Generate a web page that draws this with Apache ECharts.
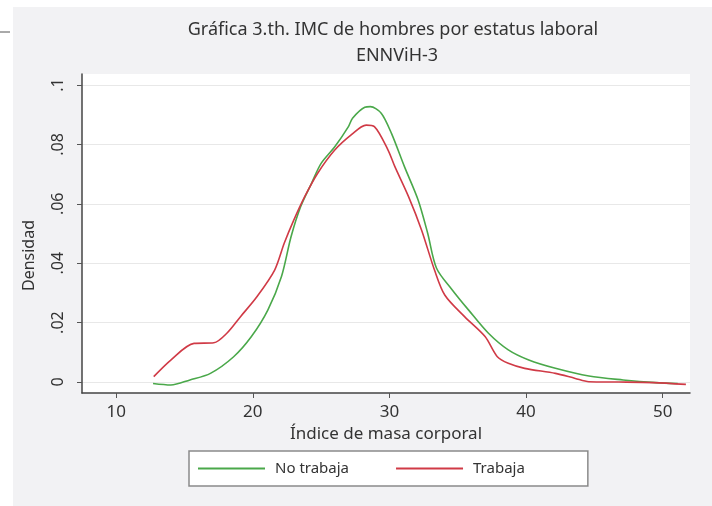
<!DOCTYPE html>
<html>
<head>
<meta charset="utf-8">
<script src="https://cdn.jsdelivr.net/npm/echarts@6/dist/echarts.min.js"></script>
<style>
  html, body { margin: 0; padding: 0; background: #fff; }
  #chart { width: 712px; height: 506px; }
</style>
</head>
<body>
<div id="chart"></div>
<script>
// densidad kernel del IMC
var noTrabaja = [
  [12.7, -0.0005], [14.0, -0.001], [15.4, 0.0007], [16.9, 0.0029], [18.6, 0.0085],
  [19.9, 0.0153], [21.1, 0.0242], [22.1, 0.0355], [22.8, 0.0489], [23.5, 0.059],
  [24.3, 0.0669], [25.0, 0.0736], [26.0, 0.0792], [27.0, 0.086], [27.3, 0.0888],
  [28.2, 0.0925], [28.6, 0.0927], [29.4, 0.0905], [30.15, 0.0837], [31.1, 0.0725],
  [32.1, 0.0613], [32.8, 0.0501], [33.45, 0.0383], [34.6, 0.031], [35.8, 0.0242],
  [37.25, 0.0164], [38.7, 0.0108], [40.2, 0.0074], [42.15, 0.0046], [44.6, 0.002],
  [47.1, 0.0007], [49.5, -0.0002], [51.1, -0.0005]
];
var trabaja = [
  [12.75, 0.0018], [14.0, 0.0074], [15.7, 0.013], [17.15, 0.0132], [18.1, 0.0164],
  [19.1, 0.022], [20.3, 0.0287], [21.6, 0.0377], [22.3, 0.0467], [23.0, 0.0545],
  [23.8, 0.0624], [24.75, 0.0703], [26.0, 0.0781], [27.2, 0.0832], [28.3, 0.0865],
  [28.9, 0.086], [29.9, 0.0781], [30.4, 0.0725], [31.4, 0.0624], [32.35, 0.0512],
  [33.3, 0.0377], [34.05, 0.0293], [35.5, 0.022], [37.0, 0.0153], [37.9, 0.0085],
  [38.7, 0.0063], [39.9, 0.0046], [42.15, 0.0029], [43.6, 0.0012], [44.6, 0.0001],
  [46.8, 0.0], [49.3, -0.0002], [51.7, -0.0008]
];
var xTicks = [10, 20, 30, 40, 50];
var yTicks = [0, 0.02, 0.04, 0.06, 0.08, 0.1];
var serieNames = ['No trabaja', 'Trabaja'];

var FONT = '"Noto Sans", sans-serif';

var chart = echarts.init(document.getElementById('chart'));
chart.setOption({
  backgroundColor: '#fff',
  animation: false,
  graphic: [
    { type: 'rect', z: -10, shape: { x: 13, y: 7, width: 699, height: 499 }, style: { fill: '#f2f2f4' } },
    { type: 'line', shape: { x1: 0, y1: 32, x2: 10, y2: 32 }, style: { stroke: '#555', lineWidth: 1 } },
    { type: 'text', x: 393, y: 30, style: { text: 'Gráfica 3.th. IMC de hombres por estatus laboral',
        font: '18px ' + FONT, fill: '#333', align: 'center', verticalAlign: 'middle',
        textAlign: 'center', textVerticalAlign: 'middle' } },
    { type: 'text', x: 397, y: 56, style: { text: 'ENNViH-3',
        font: '18px ' + FONT, fill: '#333', align: 'center', verticalAlign: 'middle',
        textAlign: 'center', textVerticalAlign: 'middle' } }
  ],
  grid: {
    left: 82, right: 22, top: 74, bottom: 113,
    show: true, backgroundColor: '#fff', borderWidth: 0
  },
  legend: {
    data: serieNames,
    left: 189, top: 451,
    padding: [10, 63, 10, 9],
    itemGap: 47,
    itemWidth: 67,
    itemHeight: 2,
    icon: 'rect',
    backgroundColor: '#fff',
    borderColor: '#8a8a8a',
    borderWidth: 1.5,
    borderRadius: 0,
    textStyle: { fontFamily: FONT, fontSize: 15, color: '#333', padding: [0, 0, 0, 5] }
  },
  xAxis: {
    type: 'value',
    min: 7.5, max: 52,
    name: 'Índice de masa corporal',
    nameLocation: 'middle',
    nameGap: 33,
    nameTextStyle: { fontFamily: FONT, fontSize: 17, color: '#333' },
    axisLine: { show: true, onZero: false, lineStyle: { color: '#444', width: 1.5 } },
    axisTick: { show: true, length: 5, customValues: xTicks, lineStyle: { color: '#555' } },
    axisLabel: { customValues: xTicks, margin: 11, fontFamily: FONT, fontSize: 17, color: '#333' },
    splitLine: { show: false }
  },
  yAxis: {
    type: 'value',
    min: -0.0037, max: 0.1037,
    name: 'Densidad',
    nameLocation: 'middle',
    nameGap: 45,
    nameTextStyle: { fontFamily: FONT, fontSize: 16, color: '#333', padding: [0, 44, 0, 0] },
    axisLine: { show: true, onZero: false, lineStyle: { color: '#444', width: 1.5 } },
    axisTick: { show: true, length: 5, customValues: yTicks, lineStyle: { color: '#555' } },
    axisLabel: {
      customValues: yTicks, rotate: 90, margin: 16,
      fontFamily: FONT, fontSize: 16, color: '#333',
      formatter: function (v) {
        if (Math.abs(v) < 1e-9) return '0';
        return String(+v.toFixed(2)).replace(/^0/, '');
      }
    },
    splitLine: { show: true, lineStyle: { color: '#e8e8e8', width: 1 } }
  },
  series: [{
    name: serieNames[0],
    type: 'line',
    data: noTrabaja,
    smooth: 0.3,
    showSymbol: false,
    lineStyle: { color: '#4aa84a', width: 1.6 },
    itemStyle: { color: '#4aa84a' }
  }, {
    name: serieNames[1],
    type: 'line',
    data: trabaja,
    smooth: 0.3,
    showSymbol: false,
    lineStyle: { color: '#d03a46', width: 1.6 },
    itemStyle: { color: '#d03a46' }
  }]
});
</script>
</body>
</html>
